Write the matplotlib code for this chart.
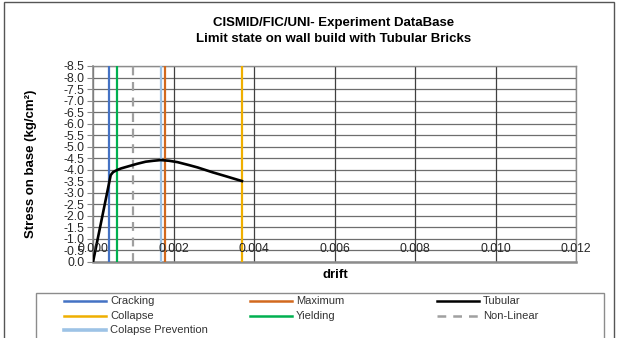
import matplotlib
matplotlib.use('Agg')
import matplotlib.pyplot as plt
from matplotlib.lines import Line2D
from matplotlib.patches import Rectangle

plt.rcParams['font.family'] = ['Liberation Sans', 'DejaVu Sans']
plt.rcParams['axes.unicode_minus'] = False

# Tubular curve (drift vs stress on base)
drift = [0.0, 0.00044, 0.0005, 0.0006, 0.0007, 0.0009, 0.0011, 0.00131, 0.0015,
         0.00168, 0.00189, 0.0021, 0.00239, 0.0026, 0.00297, 0.0033, 0.0037]
stress = [0.0, -3.77, -3.90, -3.99, -4.06, -4.16, -4.26, -4.35, -4.39,
          -4.42, -4.39, -4.33, -4.20, -4.10, -3.89, -3.72, -3.51]

# limit states (vertical lines at a drift value)
limit_names = ['Cracking', 'Maximum', 'Collapse', 'Yielding', 'Non-Linear', 'Colapse Prevention']
limit_drift = [0.0004, 0.0018, 0.0037, 0.0006, 0.0010, 0.0017]
limit_colors = ['#4472C4', '#D2691E', '#EFAF00', '#00B050', '#A0A0A0', '#9DC3E6']
limit_styles = ['-', '-', '-', '-', (0, (4, 3)), '-']

x_ticks = [0.000, 0.002, 0.004, 0.006, 0.008, 0.010, 0.012]
y_ticks = [0.0, -0.5, -1.0, -1.5, -2.0, -2.5, -3.0, -3.5, -4.0, -4.5, -5.0,
           -5.5, -6.0, -6.5, -7.0, -7.5, -8.0, -8.5]

# legend order as in the reference (row by row)
legend_order = ['Cracking', 'Maximum', 'Tubular', 'Collapse', 'Yielding',
                'Non-Linear', 'Colapse Prevention']

W, H = 620, 338
fig = plt.figure(figsize=(W / 100, H / 100), dpi=100)
ax = fig.add_axes([93 / W, 1 - 262 / H, (576 - 93) / W, (262 - 66) / H])

for y in y_ticks:
    ax.axhline(y, color='#6e6e6e', lw=0.9, zorder=1)
for x in x_ticks:
    ax.axvline(x, color='#404040', lw=0.9, zorder=1)

styles = {}
for name, xv, c, ls in zip(limit_names, limit_drift, limit_colors, limit_styles):
    ax.axvline(xv, color=c, lw=1.6, ls=ls, zorder=3)
    styles[name] = (c, ls)

ax.plot(drift, stress, color='black', lw=1.9, zorder=4)
styles['Tubular'] = ('black', '-')

ax.set_xlim(0, 0.012)
ax.set_ylim(0, -8.5)
ax.set_xticks([])
ax.set_yticks(y_ticks)
ax.set_yticklabels(['%.1f' % v for v in y_ticks], fontsize=8.8, color='#262626')
ax.tick_params(axis='y', direction='out', length=4, width=0.8, color='#888888', pad=2)

for x in x_ticks:
    ax.text(x, -0.45, '%.3f' % x, ha='center', va='baseline', fontsize=8.8,
            color='#262626', zorder=5)

for s in ax.spines.values():
    s.set_color('#8c8c8c')
    s.set_linewidth(1.0)
ax.spines['bottom'].set_linewidth(1.8)
ax.spines['left'].set_linewidth(1.2)

ax.set_ylabel('Stress on base (kg/cm²)', fontsize=9.5, fontweight='bold', labelpad=19)
fig.text(335 / W, 1 - 275 / H, 'drift', ha='center', va='center',
         fontsize=9.5, fontweight='bold')

fig.text(334 / W, 1 - 23 / H, 'CISMID/FIC/UNI- Experiment DataBase',
         ha='center', va='center', fontsize=9.5, fontweight='bold')
fig.text(334 / W, 1 - 39 / H, 'Limit state on wall build with Tubular Bricks',
         ha='center', va='center', fontsize=9.5, fontweight='bold')

# outer chart frame and legend frame (run off the bottom of the image)
fig.add_artist(Rectangle((4 / W, -0.1), 610 / W, 1.1 - 2 / H, transform=fig.transFigure,
                         fill=False, edgecolor='#555555', lw=1.0, clip_on=False))
fig.add_artist(Rectangle((36 / W, -0.1), 568 / W, 0.1 + 1 - 293 / H,
                         transform=fig.transFigure, fill=False,
                         edgecolor='#8c8c8c', lw=1.0, clip_on=False))

col_x = [64, 250, 437]
row_y = [301, 316, 330]
for i, name in enumerate(legend_order):
    r, c = divmod(i, 3)
    x0 = col_x[c]
    y0 = 1 - row_y[r] / H
    color, ls = styles[name]
    fig.add_artist(Line2D([x0 / W, (x0 + 42) / W], [y0, y0], transform=fig.transFigure,
                          color=color, lw=1.8 if name != 'Colapse Prevention' else 2.6,
                          ls=ls if ls == '-' else (0, (3.5, 2.8))))
    fig.text((x0 + 46) / W, y0, name, ha='left', va='center', fontsize=8, color='#333333')

fig.savefig('out.png', dpi=100)
